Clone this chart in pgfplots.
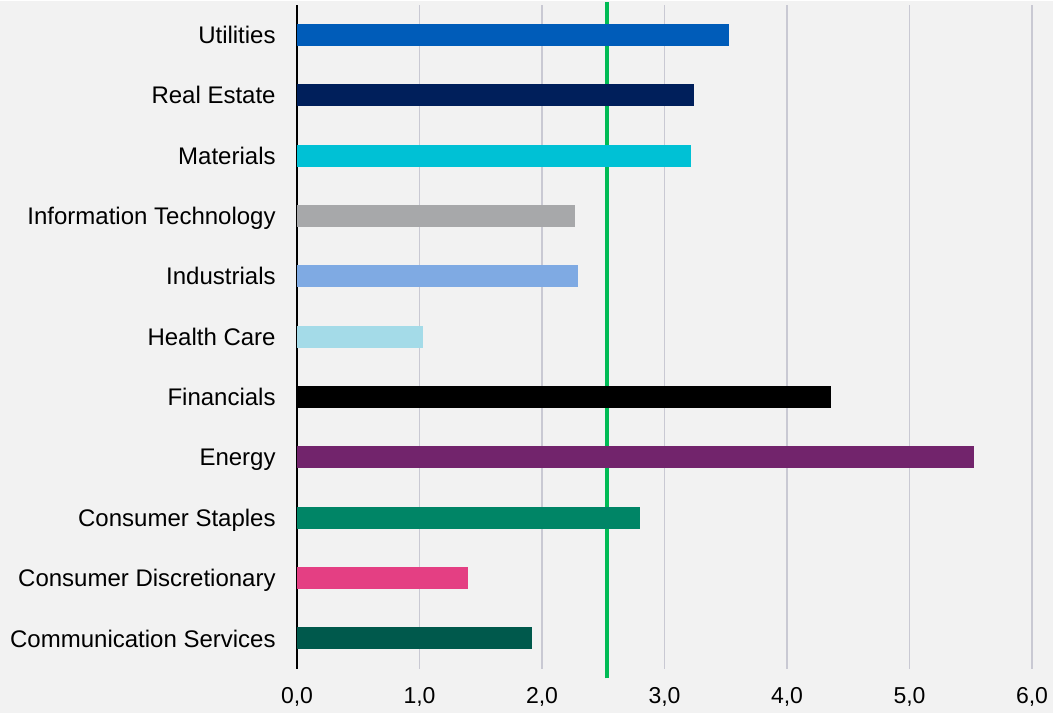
\documentclass[border=0pt]{standalone}
\usepackage{pgfplots}
\pgfplotsset{compat=1.18}
\usepackage{fontspec}
\setmainfont{Liberation Sans}
\definecolor{bgc}{RGB}{242,242,242}
\definecolor{cUtil}{RGB}{0,92,185}
\definecolor{cReal}{RGB}{0,31,91}
\definecolor{cMat}{RGB}{0,193,213}
\definecolor{cIT}{RGB}{167,168,170}
\definecolor{cInd}{RGB}{127,170,227}
\definecolor{cHC}{RGB}{164,219,232}
\definecolor{cFin}{RGB}{0,0,0}
\definecolor{cEn}{RGB}{114,36,108}
\definecolor{cCS}{RGB}{0,133,102}
\definecolor{cCD}{RGB}{228,63,131}
\definecolor{cCom}{RGB}{0,89,76}
\definecolor{cGreen}{RGB}{0,187,85}
\definecolor{cGrid}{RGB}{201,201,211}
\begin{document}
\begin{tikzpicture}
\fill[bgc] (-148.5pt,-22pt) rectangle (378pt,334pt);
\begin{axis}[
  scale only axis,
  width=367.5pt, height=332pt,
  xmin=0, xmax=6, ymin=-0.5, ymax=10.5,
  xtick={0,1,2,3,4,5,6},
  xticklabels={{0,0},{1,0},{2,0},{3,0},{4,0},{5,0},{6,0}},
  ytick={0,...,10},
  yticklabels={Communication Services,Consumer Discretionary,Consumer Staples,Energy,Financials,Health Care,Industrials,Information Technology,Materials,Real Estate,Utilities},
  major tick length=0pt,
  xmajorgrids,
  major grid style={cGrid, line width=0.65pt},
  axis lines*=left,
  axis line style={-},
  x axis line style={draw=none},
  y axis line style={black, line width=1pt},
  xticklabel style={font=\fontsize{11.5}{13}\selectfont, anchor=north, inner sep=0pt, yshift=-9pt},
  yticklabel style={font=\fontsize{12}{14}\selectfont, anchor=east, inner sep=0pt, xshift=-10.5pt, text height=8.6pt, text depth=0pt},
  xbar, bar width=0.365, bar shift=0pt,
  clip=false,
]
\addplot[sharp plot, cGreen, line width=1.6pt, mark=none] coordinates {(2.53,-0.66) (2.53,10.55)};
\addplot[xbar, fill=cCom, draw=none] coordinates {(1.92,0)};
\addplot[xbar, fill=cCD, draw=none] coordinates {(1.40,1)};
\addplot[xbar, fill=cCS, draw=none] coordinates {(2.80,2)};
\addplot[xbar, fill=cEn, draw=none] coordinates {(5.53,3)};
\addplot[xbar, fill=cFin, draw=none] coordinates {(4.36,4)};
\addplot[xbar, fill=cHC, draw=none] coordinates {(1.03,5)};
\addplot[xbar, fill=cInd, draw=none] coordinates {(2.29,6)};
\addplot[xbar, fill=cIT, draw=none] coordinates {(2.27,7)};
\addplot[xbar, fill=cMat, draw=none] coordinates {(3.22,8)};
\addplot[xbar, fill=cReal, draw=none] coordinates {(3.24,9)};
\addplot[xbar, fill=cUtil, draw=none] coordinates {(3.53,10)};
\end{axis}
\end{tikzpicture}
\end{document}
